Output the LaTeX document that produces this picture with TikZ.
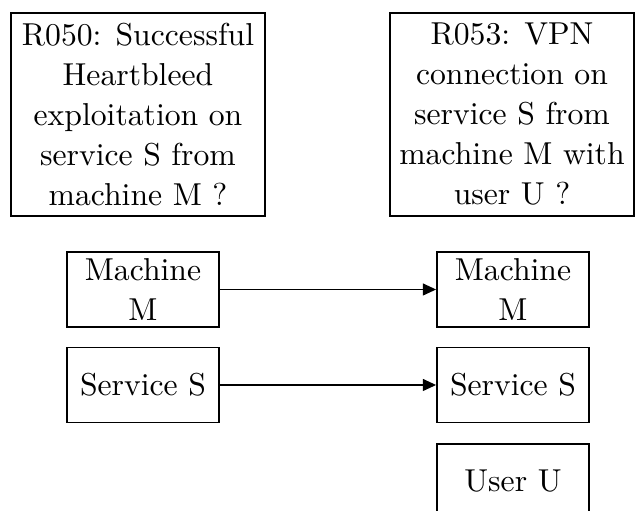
\documentclass[tikz,border=0pt]{standalone}
\usetikzlibrary{arrows.meta}
\begin{document}
\begin{tikzpicture}[x=0.325pt,y=-0.325pt,
  every node/.style={font=\fontsize{10.3pt}{13pt}\selectfont},
  question/.style={draw,line width=0.6pt,align=center,inner sep=0pt,
    minimum height=66pt},
  entity/.style={draw,line width=0.6pt,align=center,inner sep=0pt,
    minimum width=49.4pt,minimum height=24.4pt},
  link/.style={line width=0.4pt,-{Triangle[length=4.3pt,width=3.9pt]}}]
\clip (0,0) rectangle (644,511);
% rule boxes
\node[question,minimum width=82.6pt] (r050) at (138,114.5)
  {R050: Successful\\Heartbleed\\exploitation on\\service S from\\machine M ?};
\node[question,minimum width=79.3pt] (r053) at (512,114.5)
  {R053: VPN\\connection on\\service S from\\machine M with\\user U ?};
% entities of R050
\node[entity] (mL) at (143,289.5) {Machine\\M};
\node[entity] (sL) at (143,385) {Service S};
% entities of R053
\node[entity] (mR) at (513,289.5) {Machine\\M};
\node[entity] (sR) at (513,385) {Service S};
\node[entity] (uR) at (513,481.5) {User U};
% correspondences
\draw[link] (mL) -- (mR);
\draw[link] (sL) -- (sR);
\end{tikzpicture}
\end{document}
